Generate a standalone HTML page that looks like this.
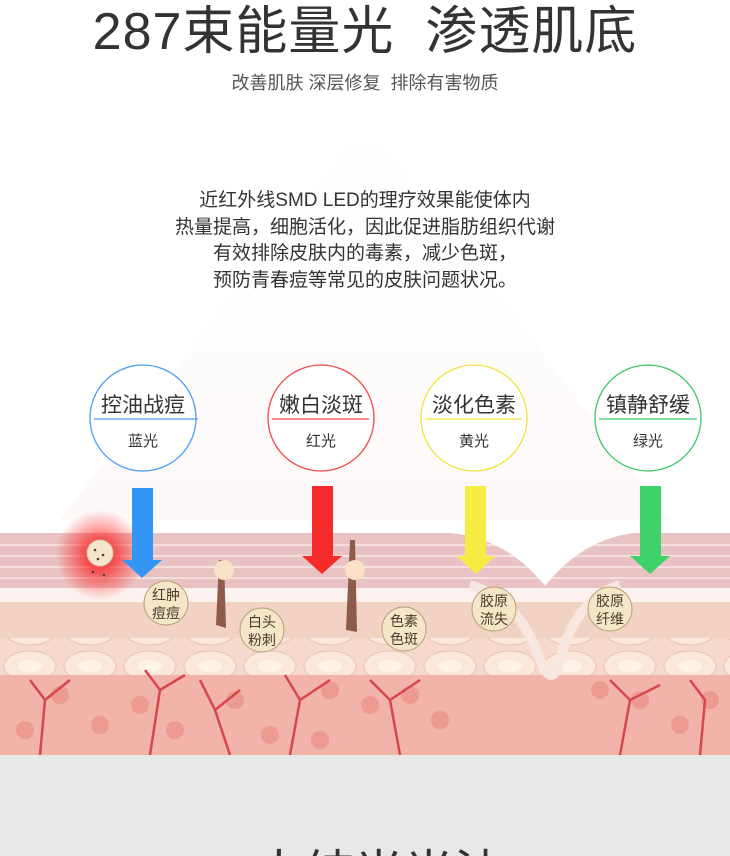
<!DOCTYPE html>
<html><head><meta charset="utf-8"><style>
html,body{margin:0;padding:0;width:730px;height:856px;overflow:hidden}
body{position:relative;background:#fff;font-family:"Liberation Sans","Noto Sans CJK SC",sans-serif;color:#333}
.t{position:absolute;left:0;width:730px;text-align:center;white-space:nowrap}
</style></head><body>
<div style="position:absolute;left:0;top:0;width:730px;height:856px;overflow:hidden">
<svg width="730" height="856" style="position:absolute;left:0;top:0">
<defs>
<linearGradient id="glow" x1="0" y1="0" x2="0" y2="1"><stop offset="0" stop-color="#fff"/><stop offset="1" stop-color="#fbeaea"/></linearGradient>
<radialGradient id="red" cx="0.5" cy="0.5" r="0.5"><stop offset="0" stop-color="#f00" stop-opacity="0.9"/><stop offset="1" stop-color="#f00" stop-opacity="0"/></radialGradient>
<pattern id="cells" width="60" height="36" patternUnits="userSpaceOnUse"><rect width="60" height="36" fill="#f6d8cc"/><ellipse cx="30" cy="18" rx="26" ry="15" fill="#fbe8dc" stroke="#ecc2b4"/><ellipse cx="30" cy="18" rx="12" ry="6" fill="#fdf3e6"/></pattern>
</defs>
<polygon points="365,120 60,520 670,520" fill="url(#glow)" opacity="0.3"/>
<rect x="0" y="533" width="730" height="222" fill="#e9c3c3"/>
<g stroke="#f5dede" stroke-width="2">
<line x1="0" y1="545" x2="730" y2="545"/><line x1="0" y1="556" x2="730" y2="556"/><line x1="0" y1="567" x2="730" y2="567"/><line x1="0" y1="578" x2="730" y2="578"/>
</g>
<rect x="0" y="588" width="730" height="14" fill="#fbf1ee"/>
<rect x="0" y="602" width="730" height="40" fill="#f1d2c3"/>
<rect x="0" y="638" width="730" height="40" fill="url(#cells)"/>
<rect x="0" y="675" width="730" height="80" fill="#f2b3aa"/>
<g fill="#ec9a92">
<circle cx="60" cy="695" r="9"/><circle cx="100" cy="725" r="9"/><circle cx="25" cy="730" r="9"/><circle cx="140" cy="705" r="9"/><circle cx="175" cy="730" r="9"/><circle cx="235" cy="700" r="9"/><circle cx="270" cy="735" r="9"/><circle cx="330" cy="690" r="9"/><circle cx="370" cy="705" r="9"/><circle cx="320" cy="740" r="9"/><circle cx="410" cy="695" r="9"/><circle cx="440" cy="720" r="9"/><circle cx="600" cy="690" r="9"/><circle cx="640" cy="700" r="9"/><circle cx="680" cy="725" r="9"/><circle cx="710" cy="700" r="9"/>
</g>
<g stroke="#d8474c" stroke-width="2.5" fill="none">
<path d="M40 755 L45 700 L30 680 M45 700 L70 680"/><path d="M150 755 L160 690 L145 670 M160 690 L185 675"/><path d="M230 755 L215 710 L200 680 M215 710 L240 690"/><path d="M290 755 L300 700 L285 675 M300 700 L330 680"/><path d="M400 755 L390 700 L370 680 M390 700 L420 680"/><path d="M620 755 L630 700 L610 680 M630 700 L660 685"/><path d="M700 755 L705 700 L690 680"/>
</g>
<path d="M470 585 Q520 600 540 660 Q552 690 560 660 Q575 600 620 585" stroke="#f8e6e0" stroke-width="10" fill="none"/>
<path d="M440 532 Q505 535 545 586 Q585 535 645 532 Z" fill="#fff"/>
<rect x="0" y="755" width="730" height="101" fill="#e8e8e8"/>
<circle cx="100" cy="555" r="45" fill="url(#red)"/>
<circle cx="100" cy="553" r="13" fill="#f4e5cc" stroke="#d9c6a8"/>
<g fill="#5a3a2a"><circle cx="95" cy="550" r="1.3"/><circle cx="103" cy="555" r="1.3"/><circle cx="98" cy="559" r="1.3"/><circle cx="93" cy="572" r="1.3"/><circle cx="104" cy="575" r="1.3"/></g>
<path d="M219 560 L216 625 L226 628 L224 560Z" fill="#8d5b4a"/><path d="M350 540 L346 630 L357 632 L355 540Z" fill="#8d5b4a"/>
<circle cx="224" cy="570" r="10" fill="#fbe1c6"/><circle cx="355" cy="570" r="10" fill="#fbe1c6"/>
<polygon points="132,488 153,488 153,560 162,560 142,578 122,560 132,560" fill="#3496f4"/>
<polygon points="312,486 333,486 333,556 342,556 322,574 302,556 312,556" fill="#f52a2a"/>
<polygon points="465,486 486,486 486,556 495,556 476,574 457,556 465,556" fill="#f7ec45"/>
<polygon points="640,486 661,486 661,556 670,556 650,574 630,556 640,556" fill="#3fd26a"/>
<circle cx="143" cy="418" r="53" fill="#fff" stroke="#4a9ef5" stroke-width="1.3"/><line x1="94" y1="419" x2="198" y2="419" stroke="#4a9ef5" stroke-width="1.3"/>
<circle cx="321" cy="418" r="53" fill="#fff" stroke="#f24a4a" stroke-width="1.3"/><line x1="272" y1="419" x2="369" y2="419" stroke="#f24a4a" stroke-width="1.3"/>
<circle cx="474" cy="418" r="53" fill="#fff" stroke="#f0e43a" stroke-width="1.3"/><line x1="425" y1="419" x2="522" y2="419" stroke="#f0e43a" stroke-width="1.3"/>
<circle cx="648" cy="418" r="53" fill="#fff" stroke="#3ec76a" stroke-width="1.3"/><line x1="599" y1="419" x2="697" y2="419" stroke="#3ec76a" stroke-width="1.3"/>
<g font-size="21" text-anchor="middle" fill="#333" font-family="Liberation Sans,Noto Sans CJK SC,sans-serif">
<text x="143" y="412">控油战痘</text><text x="321" y="412">嫩白淡斑</text><text x="474" y="412">淡化色素</text><text x="648" y="412">镇静舒缓</text>
</g>
<g font-size="15" text-anchor="middle" fill="#333" font-family="Liberation Sans,Noto Sans CJK SC,sans-serif">
<text x="143" y="446">蓝光</text><text x="321" y="446">红光</text><text x="474" y="446">黄光</text><text x="648" y="446">绿光</text>
</g>
<g fill="#f6e6c8" stroke="#b8a07a" stroke-width="1">
<circle cx="166" cy="603" r="22"/><circle cx="262" cy="630" r="22"/><circle cx="404" cy="629" r="22"/><circle cx="494" cy="609" r="22"/><circle cx="610" cy="609" r="22"/>
</g>
<g font-size="14" text-anchor="middle" fill="#4a3a2a" font-family="Liberation Sans,Noto Sans CJK SC,sans-serif">
<text x="166" y="600">红肿</text><text x="166" y="618">痘痘</text>
<text x="262" y="627">白头</text><text x="262" y="645">粉刺</text>
<text x="404" y="626">色素</text><text x="404" y="644">色斑</text>
<text x="494" y="606">胶原</text><text x="494" y="624">流失</text>
<text x="610" y="606">胶原</text><text x="610" y="624">纤维</text>
</g>
</svg>
<div class="t" style="top:-11px;font-size:52px;color:#333;letter-spacing:1px">287束能量光&nbsp;&nbsp;渗透肌底</div>
<div class="t" style="top:69px;font-size:18px;color:#555">改善肌肤 深层修复&nbsp;&nbsp;排除有害物质</div>
<div class="t" style="top:188px;font-size:19px;line-height:26.5px;color:#333">近红外线SMD LED的理疗效果能使体内<br>热量提高，细胞活化，因此促进脂肪组织代谢<br>有效排除皮肤内的毒素，减少色斑，<br>预防青春痘等常见的皮肤问题状况。</div>
<div class="t" style="top:834px;font-size:50px;color:#333">4大纯光光波</div>
</div>
</body></html>
